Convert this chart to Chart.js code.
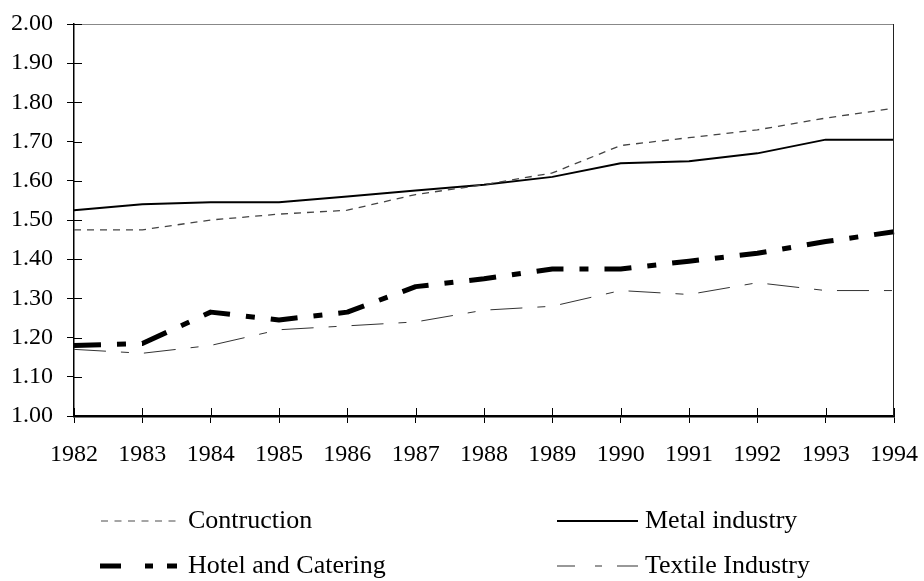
<!DOCTYPE html>
<html>
<head>
<meta charset="utf-8">
<script src="https://cdn.jsdelivr.net/npm/chart.js@4"></script>
<style>
html,body{margin:0;padding:0;background:#fff;}
canvas{display:block;}
</style>
</head>
<body>
<canvas id="c" width="924" height="581"></canvas>
<script>
const years = ['1982','1983','1984','1985','1986','1987','1988','1989','1990','1991','1992','1993','1994'];
const construction = [1.475,1.475,1.50,1.515,1.525,1.565,1.59,1.62,1.69,1.71,1.73,1.76,1.785];
const metal = [1.525,1.54,1.545,1.545,1.56,1.575,1.59,1.61,1.645,1.65,1.67,1.705,1.705];
const hotel = [1.18,1.185,1.265,1.245,1.265,1.33,1.35,1.375,1.375,1.395,1.415,1.445,1.47];
const textile = [1.17,1.16,1.18,1.22,1.23,1.24,1.27,1.28,1.32,1.31,1.34,1.32,1.32];
const seriesNames = ['Contruction','Metal industry','Hotel and Catering','Textile Industry'];
const yMin = 1.0, yMax = 2.0, yStep = 0.1;

const FONT = '"Liberation Serif", "Times New Roman", serif';

const extrasPlugin = {
  id: 'extras',
  afterDraw(chart) {
    const ctx = chart.ctx;
    const a = chart.chartArea;
    const xs = chart.scales.x, ys = chart.scales.y;
    ctx.save();
    ctx.lineWidth = 1;
    ctx.strokeStyle = '#888';
    ctx.beginPath(); ctx.moveTo(a.left, a.top + 0.5); ctx.lineTo(a.right, a.top + 0.5); ctx.stroke();
    ctx.strokeStyle = '#222';
    ctx.beginPath(); ctx.moveTo(a.right - 0.5, a.top); ctx.lineTo(a.right - 0.5, a.bottom); ctx.stroke();
    ctx.strokeStyle = '#000';
    ys.ticks.forEach((t, i) => {
      const y = Math.round(ys.getPixelForTick(i)) + 0.5;
      ctx.beginPath(); ctx.moveTo(a.left, y); ctx.lineTo(a.left + 8, y); ctx.stroke();
    });
    xs.ticks.forEach((t, i) => {
      const x = Math.round(xs.getPixelForTick(i)) + 0.5;
      ctx.beginPath(); ctx.moveTo(x, a.bottom); ctx.lineTo(x, a.bottom - 8); ctx.stroke();
    });
    const items = [
      {ds: 0, x1: 101, x2: 182, tx: 188, y: 521, color: '#888', dash: [7, 6.5], w: 1.3},
      {ds: 1, x1: 557, x2: 638, tx: 645, y: 521, color: '#000', dash: [], w: 2},
      {ds: 2, x1: 100, x2: 177, tx: 188, y: 566, color: '#000', dash: [21, 24, 8, 14, 10, 100], w: 5},
      {ds: 3, x1: 557, x2: 638, tx: 645, y: 566, color: '#777', dash: [18, 20, 7, 15, 21, 100], w: 1.3}
    ];
    ctx.font = '26px ' + FONT;
    ctx.textBaseline = 'middle';
    ctx.textAlign = 'left';
    items.forEach(it => {
      ctx.lineWidth = it.w;
      ctx.strokeStyle = it.color;
      ctx.setLineDash(it.dash);
      ctx.lineCap = 'butt';
      ctx.beginPath(); ctx.moveTo(it.x1, it.y); ctx.lineTo(it.x2, it.y); ctx.stroke();
      ctx.setLineDash([]);
      ctx.fillStyle = '#000';
      ctx.fillText(chart.data.datasets[it.ds].label, it.tx, it.y);
    });
    ctx.restore();
  }
};

new Chart(document.getElementById('c'), {
  type: 'line',
  data: {
    labels: years,
    datasets: [
      {label: seriesNames[0], data: construction, borderColor: '#444', borderWidth: 1.3, borderDash: [7, 6]},
      {label: seriesNames[1], data: metal, borderColor: '#000', borderWidth: 2},
      {label: seriesNames[2], data: hotel, borderColor: '#000', borderWidth: 5, borderDash: [27, 16, 9, 16]},
      {label: seriesNames[3], data: textile, borderColor: '#333', borderWidth: 1, borderDash: [32, 15, 8, 15]}
    ]
  },
  options: {
    responsive: false,
    animation: false,
    devicePixelRatio: 1,
    layout: {padding: {left: 0, top: 24, right: 30, bottom: 0}},
    elements: {
      point: {radius: 0, hoverRadius: 0},
      line: {tension: 0, fill: false, borderCapStyle: 'butt', borderJoinStyle: 'round'}
    },
    plugins: {legend: {display: false}, tooltip: {enabled: false}},
    scales: {
      x: {
        type: 'category',
        offset: false,
        grid: {display: true, drawOnChartArea: false, drawTicks: true, tickLength: 7, color: '#000', lineWidth: 1},
        border: {display: true, color: '#000', width: 2.5},
        ticks: {color: '#000', font: {family: FONT, size: 24}, padding: 17, autoSkip: false, maxRotation: 0, minRotation: 0},
        afterFit(scale) { scale.height = 165; scale.paddingLeft = 0; scale.paddingRight = 0; }
      },
      y: {
        min: yMin, max: yMax,
        grid: {display: true, drawOnChartArea: false, drawTicks: true, tickLength: 7, color: '#000', lineWidth: 1},
        border: {display: true, color: '#000', width: 1.5},
        ticks: {stepSize: yStep, color: '#000', font: {family: FONT, size: 24}, padding: 14,
          callback: v => Number(v).toFixed(2)},
        afterFit(scale) { scale.width = 74; scale.paddingTop = 0; scale.paddingBottom = 0; }
      }
    }
  },
  plugins: [extrasPlugin]
});
</script>
</body>
</html>
